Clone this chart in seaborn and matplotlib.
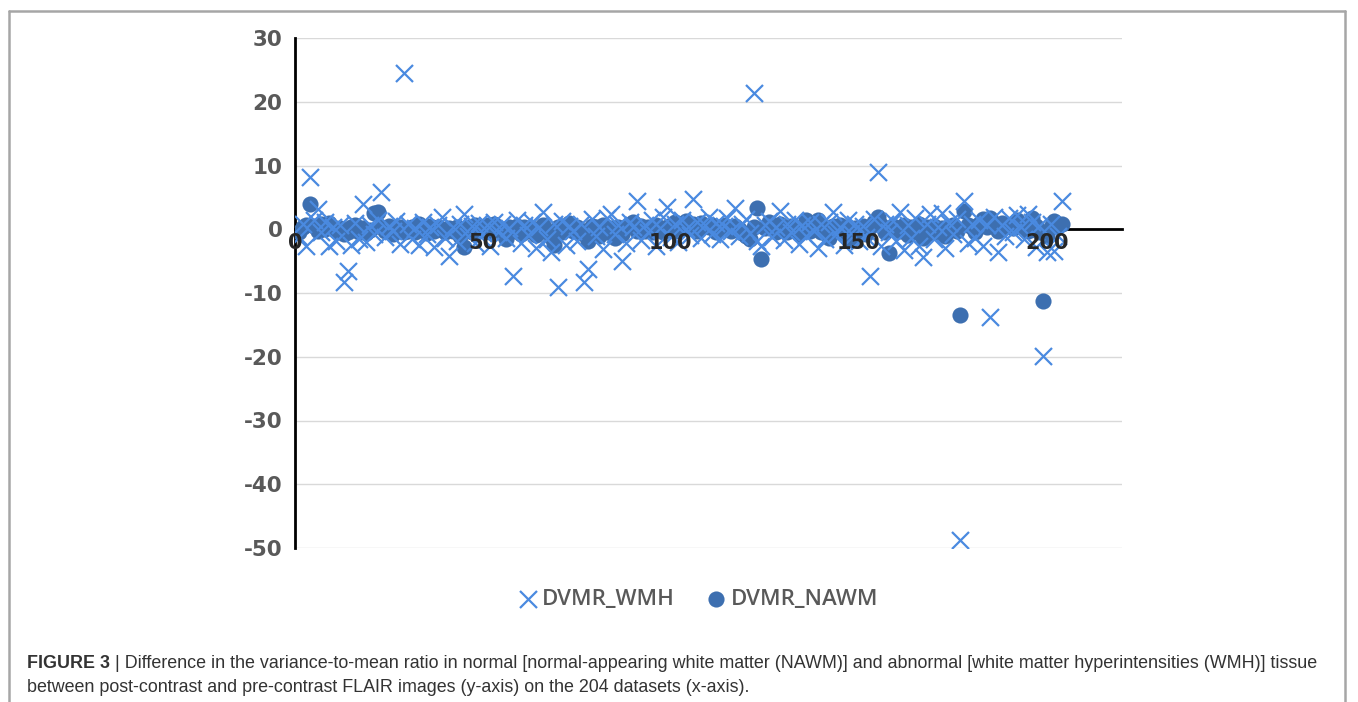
import numpy as np
import pandas as pd
import seaborn as sns
import matplotlib.pyplot as plt
from matplotlib.lines import Line2D

# === Data ===
dvmr_wmh = [
    -1.2, 0.8, -2.6, 8.2, 1.5, 3.1, -0.5, 1.2, -2.6, 0.4,
    -1.8, 0.6, -8.2, -6.6, -2.4, 1.0, -1.5, 3.9, -2.0, 0.7,
    -0.8, 1.4, 5.8, -1.2, 0.5, -0.3, 1.3, -2.3, 24.5, 0.9,
    -1.6, 0.2, -2.5, 1.1, -0.7, 0.4, -2.8, 0.6, 2.0, -1.4,
    -4.2, 0.3, -1.9, 0.8, 2.4, -1.1, 0.5, -2.2, 1.0, -0.6,
    0.7, -2.7, 1.2, -0.4, 0.9, -1.3, 0.2, -7.4, 1.5, -2.1,
    0.6, -0.9, 1.1, -3.0, 0.3, 2.7, -1.5, -3.6, 0.8, -9.0,
    1.3, -2.4, 0.5, -0.2, -1.8, 0.9, -8.3, -6.3, 1.6, -1.0,
    0.4, -3.1, 1.8, 2.4, -0.8, 0.6, -5.0, -2.2, 1.1, 0.3,
    4.4, -1.7, 0.7, -0.5, 1.4, -2.6, 0.2, 1.9, 3.5, -1.2,
    0.8, -2.0, 1.5, 0.1, -0.9, 4.7, 1.2, -1.4, 0.6, 2.0,
    -0.7, 1.0, -1.6, 0.5, 1.7, -0.3, 3.4, -1.1, 0.9, 1.6,
    -0.6, 21.4, -1.9, -2.6, 0.7, 1.3, -1.2, 0.4, 2.9, -1.7,
    0.8, -0.4, 1.5, -2.3, 0.6, -1.0, 1.2, -0.2, -2.9, 0.9,
    -1.5, 1.1, 2.7, -0.8, 0.3, -2.4, 1.4, -0.6, 0.8, -1.8,
    0.5, -1.2, -7.4, 1.6, 9.0, -2.6, 0.9, -0.5, 1.3, -1.9,
    2.7, -3.2, 0.6, -1.4, 1.8, -2.7, -4.4, 0.8, 2.4, -1.6,
    0.4, 2.5, -2.9, 1.0, -0.7, 1.6, -48.7, 4.4, -2.2, 0.9,
    -1.3, 1.5, -2.6, 0.7, -13.8, 1.9, -3.5, 0.6, -1.0, 1.7,
    -0.4, 2.2, 0.3, -1.5, 2.4, 1.1, -2.8, 0.5, -19.9, -3.5,
    0.8, -3.4, -1.1, 4.4,
]

dvmr_nawm = [
    -0.4, 0.3, 0.6, 3.9, 0.5, -0.2, 0.8, 0.1, 1.0, 0.4,
    -0.3, 0.2, -0.8, -0.5, 0.3, 0.6, -0.4, 0.2, -0.6, -0.1,
    2.6, 2.7, 0.4, -0.3, 0.5, -0.7, 0.1, 0.3, -0.5, -0.2,
    0.4, -0.4, 0.8, 0.2, -0.6, 0.5, -0.2, 0.3, 0.1, -0.5,
    0.2, -0.3, 0.4, -1.0, -2.8, 0.3, -0.5, 0.6, -0.2, 0.4,
    0.7, -0.4, 0.9, 0.2, -0.6, -1.6, 0.3, -0.2, 0.5, -0.8,
    0.4, -0.3, 0.2, -0.9, 0.1, 0.6, -0.4, -1.2, -2.4, 0.3,
    -0.5, 0.2, 1.0, -0.3, 0.4, -0.6, -0.2, -1.9, 0.5, 0.3,
    -1.0, 0.6, -0.4, 0.2, -1.3, 0.4, -0.7, 0.3, 0.9, 1.1,
    -0.3, 0.5, -0.2, 0.4, -0.5, 0.6, 0.2, -0.4, 0.3, 0.7,
    1.2, -0.3, 0.4, 1.3, 0.2, 0.8, -0.2, 1.0, 0.5, 0.3,
    0.6, -0.4, 0.2, 0.7, 0.4, -0.3, 0.5, 0.1, -0.6, -1.1,
    -1.6, 0.4, 3.3, -4.7, 0.2, 1.2, 0.6, -0.5, 0.9, 0.3,
    -0.4, 0.5, 0.2, -0.7, 0.4, 1.4, -0.3, 0.6, 1.5, -0.5,
    0.3, -1.4, 0.5, -0.2, 0.7, -0.6, 0.4, -1.7, 0.2, -0.3,
    0.5, -0.8, 0.3, 1.2, 2.0, 0.6, -0.4, -3.7, 0.5, 0.2,
    -0.3, 0.6, -0.9, 0.4, -0.5, 0.8, -1.3, 0.3, -0.6, 0.5,
    -0.4, 0.2, -1.0, 0.4, 0.6, -0.2, -13.5, 2.8, 0.7, 0.3,
    -0.5, 0.9, 1.6, 0.4, 1.8, 0.5, -0.2, 1.0, 0.3, 0.6,
    0.2, 1.4, 0.7, 0.4, -0.3, 1.7, 0.5, -0.4, -11.3, -1.0,
    0.3, 1.3, 0.5, 0.8,
]

y_ticks = [-50, -40, -30, -20, -10, 0, 10, 20, 30]
x_ticks = [0, 50, 100, 150, 200]

caption_bold = "FIGURE 3"
caption_line1 = (" | Difference in the variance-to-mean ratio in normal [normal-appearing white matter (NAWM)] "
                 "and abnormal [white matter hyperintensities (WMH)] tissue")
caption_line2 = "between post-contrast and pre-contrast FLAIR images (y-axis) on the 204 datasets (x-axis)."

WMH_COLOR = "#4a8ae0"
NAWM_COLOR = "#3d6fb0"

df = pd.DataFrame({
    "dataset": np.arange(1, len(dvmr_wmh) + 1),
    "DVMR_WMH": dvmr_wmh,
    "DVMR_NAWM": dvmr_nawm,
})

sns.set_style("white")
plt.rcParams["font.family"] = ["Open Sans", "DejaVu Sans"]

fig = plt.figure(figsize=(13.58, 7.02), dpi=100)
ax = fig.add_axes([295 / 1358, 1 - 548 / 702, 827 / 1358, 510 / 702])

# circles underneath, crosses on top (as in the reference)
sns.scatterplot(data=df, x="dataset", y="DVMR_NAWM", marker="o", s=135,
                color=NAWM_COLOR, linewidth=0, label="DVMR_NAWM", ax=ax, zorder=3)
sns.scatterplot(data=df, x="dataset", y="DVMR_WMH", marker="x", s=150,
                color=WMH_COLOR, linewidth=1.6, label="DVMR_WMH", ax=ax, zorder=4)

ax.set_xlim(0, 220)
ax.set_ylim(-50, 30)
ax.set_xlabel("")
ax.set_ylabel("")
ax.set_yticks(y_ticks)
ax.set_xticks(x_ticks)
ax.set_xticklabels([str(t) for t in x_ticks])
ax.set_yticklabels([str(t) for t in y_ticks])

ax.grid(axis="y", color="#d9d9d9", linewidth=1.0, zorder=0)
ax.grid(axis="x", visible=False)
for s in ["top", "right"]:
    ax.spines[s].set_visible(False)
ax.spines["left"].set_color("black")
ax.spines["left"].set_linewidth(2.0)
ax.spines["bottom"].set_position(("data", 0))
ax.spines["bottom"].set_color("black")
ax.spines["bottom"].set_linewidth(2.0)
ax.spines["bottom"].set_zorder(2)
ax.xaxis.set_zorder(10)  # x tick labels sit over the markers

tick_font = ["DejaVu Sans"]
ax.tick_params(axis="y", length=0, pad=9, labelsize=15.5, labelcolor="#595959")
ax.tick_params(axis="x", length=0, pad=3, labelsize=15, labelcolor="#262626")
for lbl in ax.get_yticklabels() + ax.get_xticklabels():
    lbl.set_fontweight("bold")
    lbl.set_family(tick_font)

# legend below the plot, WMH first
handles, labels = ax.get_legend_handles_labels()
ax.get_legend().remove()
order = [labels.index("DVMR_WMH"), labels.index("DVMR_NAWM")]
leg = fig.legend([handles[i] for i in order], [labels[i] for i in order],
                 loc="center", bbox_to_anchor=(698 / 1358, 1 - 599 / 702), ncol=2,
                 frameon=False, handlelength=0.9, handletextpad=0.2, columnspacing=1.4,
                 prop={"size": 16, "weight": "semibold"})
for t in leg.get_texts():
    t.set_color("#595959")

# figure frame (top, left, right)
frame_kw = dict(color="#a6a6a6", linewidth=1.8, transform=fig.transFigure)
fig.add_artist(Line2D([9 / 1358, 1345 / 1358], [1 - 11 / 702, 1 - 11 / 702], **frame_kw))
fig.add_artist(Line2D([9 / 1358, 9 / 1358], [0, 1 - 11 / 702], **frame_kw))
fig.add_artist(Line2D([1345 / 1358, 1345 / 1358], [0, 1 - 11 / 702], **frame_kw))

# caption
cap_font = ["Liberation Sans", "DejaVu Sans"]
cap_size = 12.85
y1 = 1 - 663 / 702
y2 = 1 - 688 / 702
tb = fig.text(27 / 1358, y1, caption_bold, fontsize=cap_size, fontweight="bold",
              family=cap_font, color="#333333", va="center")
fig.canvas.draw()
bb = tb.get_window_extent()
fig.text(bb.x1 / fig.bbox.width, y1, caption_line1, fontsize=cap_size,
         family=cap_font, color="#333333", va="center")
fig.text(27 / 1358, y2, caption_line2, fontsize=cap_size,
         family=cap_font, color="#333333", va="center")

fig.savefig("out.png", dpi=100)
